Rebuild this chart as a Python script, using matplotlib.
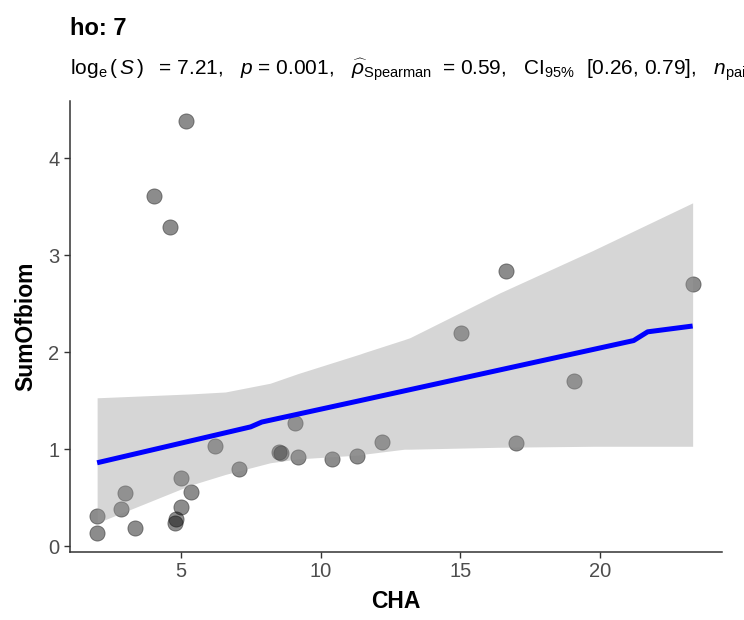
import matplotlib
matplotlib.use("Agg")
import matplotlib.pyplot as plt

plt.rcParams["font.family"] = ["Liberation Sans", "DejaVu Sans"]
plt.rcParams["mathtext.fontset"] = "custom"
plt.rcParams["mathtext.rm"] = "Liberation Sans"
plt.rcParams["mathtext.it"] = "Liberation Sans:italic"
plt.rcParams["mathtext.bf"] = "Liberation Sans:bold"

# scatter points (CHA vs SumOfbiom)
cha = [2.01, 2.01, 2.99, 2.88, 3.38, 4.03, 4.60, 5.18, 4.82, 4.78, 5.00, 5.00, 5.36,
       6.22, 7.09, 8.53, 8.60, 9.10, 9.21, 10.40, 11.29, 12.19, 15.04, 16.62, 16.98,
       19.06, 23.31]
biom = [0.31, 0.14, 0.55, 0.38, 0.19, 3.61, 3.29, 4.38, 0.28, 0.24, 0.40, 0.70, 0.56,
        1.03, 0.80, 0.97, 0.96, 1.27, 0.92, 0.90, 0.93, 1.07, 2.20, 2.84, 1.06,
        1.70, 2.70]

# fitted line + confidence band
fit_x = [2.01, 7.5, 7.9, 11.4, 21.2, 21.7, 23.31]
fit_y = [0.86, 1.23, 1.28, 1.50, 2.12, 2.21, 2.27]

band_x = [2.01, 5.36, 6.6, 8.2, 9.2, 11.4, 11.6, 13.0, 13.2, 16.4, 19.75, 23.31]
band_lo = [0.24, 0.63, 0.74, 0.86, 0.90, 0.94, 0.95, 1.00, 1.00, 1.02, 1.03, 1.03]
band_hi = [1.53, 1.57, 1.59, 1.68, 1.78, 1.98, 2.00, 2.13, 2.15, 2.61, 3.05, 3.54]

title = "ho: 7"
# plotmath-style subtitle; it runs past the right edge like the original
subtitle = (r"$\mathrm{log}_{\mathrm{e}}\,(\,S\,)\;\;$ = 7.21,   $p$ = 0.001,   "
            r"$\widehat{\rho}_{\mathrm{Spearman}}\;$ = 0.59,   CI$_{\mathrm{95\%}}$  [0.26, 0.79],   "
            r"$n_{\mathrm{pairs}}$ = 27")

fig = plt.figure(figsize=(7.44, 6.2), dpi=100)
ax = fig.add_axes([70 / 744, 1 - 552 / 620, 652 / 744, 451 / 620])

ax.scatter(cha, biom, s=120, c="black", alpha=0.45, edgecolors="black",
           linewidths=0.6, zorder=2)
ax.fill_between(band_x, band_lo, band_hi, color="#999999", alpha=0.4,
                linewidth=0, zorder=3)
ax.plot(fit_x, fit_y, color="blue", linewidth=3.6, zorder=4, solid_capstyle="butt")

ax.set_xlim(1.04, 24.36)
ax.set_ylim(-0.06, 4.59)
ax.set_xticks([5, 10, 15, 20])
ax.set_yticks([0, 1, 2, 3, 4])

for side in ["top", "right"]:
    ax.spines[side].set_visible(False)
for side in ["left", "bottom"]:
    ax.spines[side].set_color("#333333")
    ax.spines[side].set_linewidth(1.1)
ax.tick_params(colors="#333333", labelcolor="#4d4d4d", labelsize=14.5,
               length=4, width=1.0)

ax.set_xlabel("CHA", fontsize=16.5, fontweight="bold", labelpad=6)
ax.set_ylabel("SumOfbiom", fontsize=16.5, fontweight="bold", labelpad=8)

fig.text(70 / 744, 1 - 35 / 620, title, fontsize=17, fontweight="bold")
fig.text(70 / 744, 1 - 75 / 620, subtitle, fontsize=15)

fig.savefig("out.png", dpi=100)
